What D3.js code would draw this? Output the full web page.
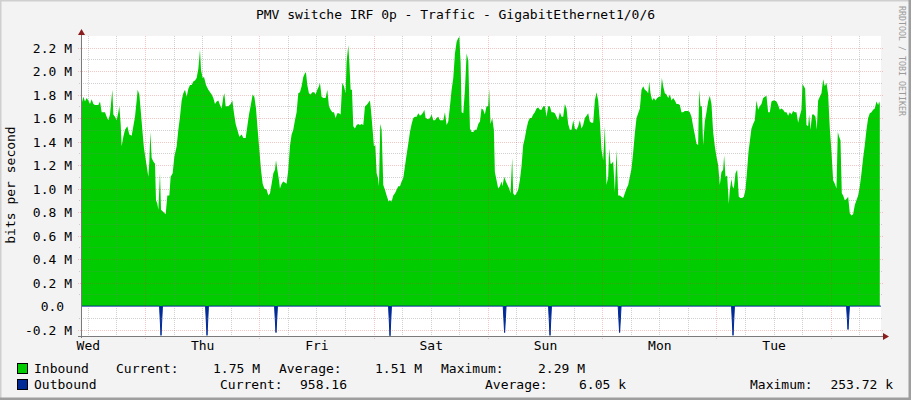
<!DOCTYPE html>
<html>
<head>
<meta charset="utf-8">
<script src="https://cdn.jsdelivr.net/npm/d3@7/dist/d3.min.js"></script>
<style>
  body { margin: 0; background: #f3f3f3; }
  svg text { font-family: "DejaVu Sans Mono", monospace; font-size: 13px; fill: #000; }
</style>
</head>
<body>
<svg id="graph"></svg>
<script>
var title = "PMV switche IRF 0p - Traffic - GigabitEthernet1/0/6";
var yTitle = "bits per second";
var watermark = "RRDTOOL / TOBI OETIKER";

// time is in hours counted from Wed 00:00, values in Mbit/s
var startHour = 10.56, endHour = 178.56;
var dayLabels = ["Wed", "Thu", "Fri", "Sat", "Sun", "Mon", "Tue"];
var dayLabelHours = [12, 36, 60, 84, 108, 132, 156];
var midnightHours = [24, 48, 72, 96, 120, 144, 168];

var yTicks = [-0.2, 0, 0.2, 0.4, 0.6, 0.8, 1.0, 1.2, 1.4, 1.6, 1.8, 2.0, 2.2];
var yTickLabels = ["-0.2 M", "0.0\u00a0", "0.2 M", "0.4 M", "0.6 M", "0.8 M", "1.0 M",
                   "1.2 M", "1.4 M", "1.6 M", "1.8 M", "2.0 M", "2.2 M"];

var seriesNames = ["Inbound", "Outbound"];
var currentValues = ["1.75 M", "958.16"];
var averageValues = ["1.51 M", "6.05 k"];
var maximumValues = ["2.29 M", "253.72 k"];

var inbound = [
  [10.56,1.70],[11.05,1.78],[11.40,1.74],[11.75,1.77],[12.10,1.75],[12.45,1.72],[12.80,1.76],[13.15,1.72],
  [13.50,1.71],[14.20,1.71],[14.55,1.74],[14.90,1.65],[15.60,1.65],[15.95,1.61],[16.30,1.58],[16.65,1.63],
  [17.14,1.84],[17.35,1.63],[17.70,1.61],[18.05,1.58],[18.40,1.65],[18.61,1.70],[18.89,1.55],[19.10,1.36],
  [19.45,1.44],[19.80,1.50],[20.29,1.53],[20.71,1.46],[21.20,1.45],[21.55,1.53],[21.90,1.61],[22.25,1.75],
  [22.46,1.84],[22.81,1.80],[23.09,1.67],[23.44,1.50],[23.79,1.34],[24.21,1.23],[24.70,1.10],[24.91,1.23],
  [25.12,1.48],[25.40,1.26],[25.75,1.23],[26.10,1.21],[26.31,0.90],[26.59,0.87],[26.80,0.82],[27.15,1.13],
  [27.36,0.82],[27.85,0.80],[28.34,0.78],[28.69,0.94],[29.11,0.94],[29.39,1.10],[29.81,1.13],[30.16,1.27],
  [30.65,1.36],[31.00,1.50],[31.35,1.61],[31.70,1.75],[32.05,1.81],[32.40,1.84],[32.75,1.78],[33.10,1.85],
  [33.45,1.88],[33.80,1.88],[34.15,1.91],[34.50,1.92],[34.85,1.94],[35.20,2.02],[35.55,2.18],[35.76,2.01],
  [36.11,1.94],[36.39,1.95],[36.81,1.88],[37.30,1.84],[38.00,1.80],[38.35,1.77],[38.70,1.72],[39.05,1.74],
  [39.40,1.75],[39.75,1.71],[40.10,1.68],[40.45,1.78],[40.66,1.81],[40.94,1.70],[41.50,1.70],[41.99,1.72],
  [42.34,1.75],[42.69,1.64],[43.04,1.55],[43.39,1.50],[43.81,1.44],[44.30,1.46],[44.65,1.43],[45.14,1.43],
  [45.49,1.53],[45.84,1.63],[46.26,1.72],[46.61,1.80],[46.96,1.78],[47.31,1.68],[47.66,1.50],[48.01,1.33],
  [48.36,1.16],[48.71,1.04],[49.06,1.00],[49.55,0.99],[49.90,0.94],[50.25,0.96],[50.60,1.04],[50.95,1.13],
  [51.30,1.16],[51.51,1.24],[51.79,1.16],[52.14,1.07],[52.34,1.00],[52.69,1.04],[53.04,1.06],[53.74,1.04],
  [54.09,1.16],[54.44,1.36],[54.79,1.46],[55.14,1.50],[55.49,1.58],[55.84,1.65],[56.19,1.81],[56.54,1.82],
  [56.89,1.87],[57.24,1.95],[57.59,1.98],[57.80,1.99],[58.08,1.88],[58.43,1.81],[58.78,1.80],[59.13,1.82],
  [59.55,1.82],[59.83,1.80],[60.18,1.84],[60.53,1.87],[60.74,1.90],[61.09,1.78],[61.44,1.77],[61.93,1.77],
  [62.28,1.84],[62.63,1.70],[62.98,1.67],[63.33,1.65],[63.68,1.65],[64.03,1.60],[64.38,1.64],[64.73,1.64],
  [65.08,1.63],[65.43,1.90],[65.78,1.87],[66.13,1.81],[66.34,2.08],[66.69,2.22],[66.90,2.08],[67.18,1.84],
  [67.46,1.84],[67.74,1.53],[68.09,1.51],[68.44,1.54],[68.79,1.55],[69.14,1.54],[69.49,1.55],[69.84,1.54],
  [70.19,1.70],[70.54,1.71],[70.89,1.73],[71.24,1.75],[71.45,1.67],[71.80,1.50],[72.08,1.36],[72.36,1.37],
  [72.64,1.13],[72.92,1.09],[73.13,1.02],[73.41,1.55],[73.69,1.50],[74.04,1.03],[74.39,0.99],[74.74,0.94],
  [75.16,0.89],[75.44,0.90],[75.79,0.89],[76.14,0.94],[76.49,0.96],[76.84,0.99],[77.19,1.02],[77.54,1.02],
  [77.89,1.06],[78.24,1.09],[78.59,1.19],[78.94,1.29],[79.29,1.38],[79.64,1.48],[79.99,1.55],[80.34,1.60],
  [80.69,1.61],[81.04,1.61],[81.39,1.64],[81.74,1.62],[82.09,1.63],[82.44,1.65],[82.65,1.67],[82.93,1.60],
  [83.49,1.59],[83.84,1.60],[84.19,1.63],[84.54,1.58],[84.89,1.58],[85.24,1.60],[85.59,1.61],[85.94,1.58],
  [86.29,1.58],[86.64,1.58],[86.99,1.65],[87.34,1.54],[87.69,1.57],[88.04,1.70],[88.39,1.84],[88.74,1.94],
  [89.09,2.15],[89.44,2.25],[89.79,2.28],[90.00,2.29],[90.28,2.07],[90.49,1.65],[90.84,1.64],[91.19,1.84],
  [91.54,2.15],[91.89,2.09],[92.24,1.51],[92.59,1.48],[92.94,1.48],[93.29,1.50],[93.64,1.50],[93.99,1.55],
  [94.34,1.57],[94.67,1.68],[95.02,1.67],[95.37,1.63],[95.72,1.70],[96.07,1.70],[96.28,1.85],[96.56,1.55],
  [96.91,1.60],[97.26,1.50],[97.47,1.14],[97.82,1.07],[98.17,1.00],[98.52,1.02],[98.87,1.06],[99.08,1.02],
  [99.43,1.10],[99.78,1.06],[100.13,1.03],[100.48,1.00],[100.76,0.96],[101.11,1.26],[101.32,0.96],[101.67,0.94],
  [102.02,0.96],[102.37,0.99],[102.72,1.07],[103.07,1.19],[103.42,1.37],[103.77,1.43],[104.12,1.51],[104.47,1.57],
  [104.82,1.60],[105.17,1.60],[105.52,1.63],[105.87,1.65],[106.22,1.68],[106.57,1.69],[106.92,1.67],[107.27,1.67],
  [107.62,1.70],[107.97,1.70],[108.32,1.61],[108.67,1.70],[109.02,1.70],[109.37,1.65],[109.72,1.65],[110.07,1.64],
  [110.42,1.61],[110.77,1.58],[111.12,1.65],[111.47,1.61],[111.82,1.61],[112.17,1.72],[112.52,1.68],[112.87,1.55],
  [113.22,1.50],[113.57,1.50],[113.92,1.58],[114.27,1.51],[114.62,1.50],[114.97,1.53],[115.32,1.58],[115.67,1.51],
  [116.02,1.54],[116.37,1.60],[116.72,1.62],[117.07,1.64],[117.42,1.57],[117.77,1.56],[118.12,1.56],[118.47,1.75],
  [118.82,1.82],[119.17,1.75],[119.52,1.57],[119.87,1.33],[120.22,1.24],[120.57,1.53],[120.92,1.03],[121.27,1.10],
  [121.48,1.34],[121.76,1.21],[121.97,1.21],[122.32,1.23],[122.67,0.97],[123.02,1.33],[123.37,0.94],[123.72,0.94],
  [124.07,0.93],[124.42,0.92],[124.77,0.96],[125.12,1.00],[125.47,1.03],[125.82,1.10],[126.17,1.17],[126.52,1.31],
  [126.87,1.47],[127.22,1.60],[127.57,1.64],[127.92,1.68],[128.27,1.84],[128.62,1.87],[128.97,1.84],[129.32,1.83],
  [129.67,1.81],[129.88,1.91],[130.16,1.81],[130.51,1.75],[130.86,1.77],[131.21,1.75],[131.56,1.77],[131.91,1.78],
  [132.26,1.78],[132.54,1.94],[132.82,1.87],[133.17,1.81],[133.52,1.80],[133.87,1.77],[134.22,1.80],[134.57,1.75],
  [134.92,1.77],[135.27,1.75],[135.62,1.72],[135.97,1.72],[136.32,1.71],[136.66,1.65],[137.01,1.65],[137.36,1.66],
  [137.71,1.66],[138.06,1.66],[138.41,1.65],[138.76,1.61],[139.11,1.53],[139.46,1.46],[139.81,1.38],[140.16,1.37],
  [140.37,1.84],[140.65,1.70],[140.93,1.70],[141.21,1.37],[141.56,1.57],[141.91,1.65],[142.26,1.74],[142.61,1.79],
  [142.96,1.72],[143.31,1.48],[143.66,1.36],[144.01,1.27],[144.36,1.20],[144.71,1.03],[145.06,1.14],[145.41,1.16],
  [145.62,1.28],[145.90,1.10],[146.25,1.11],[146.60,0.87],[146.81,0.99],[147.16,1.08],[147.37,1.02],[147.65,1.00],
  [148.00,1.13],[148.35,1.16],[148.70,0.93],[149.05,0.92],[149.40,0.92],[149.75,0.93],[150.10,0.99],[150.45,1.16],
  [150.73,1.31],[151.01,1.40],[151.36,1.51],[151.71,1.55],[152.06,1.58],[152.41,1.75],[152.76,1.67],[153.11,1.70],
  [153.46,1.72],[153.81,1.77],[154.16,1.78],[154.51,1.79],[154.86,1.65],[155.21,1.65],[155.56,1.74],[155.91,1.75],
  [156.26,1.75],[156.61,1.74],[156.96,1.71],[157.31,1.67],[157.66,1.68],[158.01,1.67],[158.36,1.65],[158.71,1.65],
  [159.06,1.62],[159.41,1.65],[159.76,1.63],[160.11,1.66],[160.46,1.65],[160.81,1.65],[161.16,1.56],[161.51,1.62],
  [161.86,1.67],[162.07,1.89],[162.35,1.87],[162.63,1.85],[162.91,1.54],[163.26,1.53],[163.47,1.63],[163.75,1.50],
  [164.10,1.63],[164.45,1.63],[164.80,1.61],[165.08,1.50],[165.36,1.75],[165.71,1.78],[166.06,1.81],[166.41,1.93],
  [166.76,1.87],[167.11,1.90],[167.46,1.80],[167.81,1.51],[168.16,1.31],[168.51,1.07],[168.86,1.04],[169.21,1.00],
  [169.49,1.48],[169.77,1.44],[170.05,1.41],[170.33,0.96],[170.61,0.94],[170.96,0.90],[171.31,0.91],[171.66,0.93],
  [172.01,0.79],[172.36,0.77],[172.71,0.78],[173.06,0.86],[173.41,0.90],[173.76,0.94],[174.11,1.02],[174.46,1.13],
  [174.81,1.26],[175.16,1.37],[175.51,1.50],[175.86,1.60],[176.21,1.64],[176.56,1.65],[176.91,1.67],[177.26,1.68],
  [177.61,1.74],[177.96,1.71],[178.17,1.74],[178.31,1.72]
];

// outbound is drawn below zero; mostly ~958 bit/s with a few short bursts
var outbound = [
  [10.56,0.001],
  [27.06,0.001],[27.36,0.250],[27.66,0.001],
  [36.72,0.001],[37.02,0.250],[37.32,0.001],
  [51.21,0.001],[51.51,0.226],[51.81,0.001],
  [75.15,0.001],[75.45,0.2537],[75.75,0.001],
  [99.22,0.001],[99.52,0.226],[99.82,0.001],
  [108.75,0.001],[109.05,0.250],[109.35,0.001],
  [123.37,0.001],[123.67,0.226],[123.97,0.001],
  [147.18,0.001],[147.48,0.250],[147.78,0.001],
  [171.33,0.001],[171.63,0.200],[171.93,0.001],
  [178.56,0.001]
];

var width = 911, height = 400;
var plotLeft = 81, plotRight = 881, plotTop = 36, plotBottom = 336;

var x = d3.scaleLinear().domain([startHour, endHour]).range([plotLeft, plotRight]);
var y = d3.scaleLinear().domain([-0.2553, 2.2979]).range([plotBottom, plotTop]);

var svg = d3.select("#graph").attr("width", width).attr("height", height);

// frame
svg.append("rect").attr("width", width).attr("height", height).attr("fill", "#f3f3f3");
svg.append("path").attr("d", "M0,400V0H911").attr("fill", "none")
   .attr("stroke", "#cfcfcf").attr("stroke-width", 3);
svg.append("path").attr("d", "M0,399H910V0").attr("fill", "none")
   .attr("stroke", "#9e9e9e").attr("stroke-width", 3);

svg.append("rect")
   .attr("x", plotLeft).attr("y", plotTop)
   .attr("width", plotRight - plotLeft).attr("height", plotBottom - plotTop)
   .attr("fill", "#fff");

var inArea = d3.area()
  .x(function(d) { return x(d[0]); })
  .y0(y(0))
  .y1(function(d) { return y(d[1]); });

var outArea = d3.area()
  .x(function(d) { return x(d[0]); })
  .y0(y(0))
  .y1(function(d) { return y(-d[1]); });

var outLine = d3.line()
  .x(function(d) { return x(d[0]); })
  .y(function(d) { return y(-d[1]); });

svg.append("path").datum(inbound).attr("d", inArea).attr("fill", "#00cc00");
svg.append("path").datum(outbound).attr("d", outArea).attr("fill", "#002a97");
svg.append("path").datum(outbound).attr("d", outLine)
   .attr("fill", "none").attr("stroke", "#002a97").attr("stroke-width", 1);

// grid on top of the data, like rrdtool does
var grid = svg.append("g").attr("shape-rendering", "crispEdges").attr("stroke-dasharray", "1,1");
var minorColor = "rgba(120,120,120,0.35)", majorColor = "rgba(215,50,50,0.28)";

var yMinor = d3.range(-0.1, 2.25, 0.2);
var hourMinor = d3.range(12, endHour, 6).filter(function(h) { return h % 24 != 0; });

grid.selectAll("line.ymin").data(yMinor).enter().append("line")
    .attr("x1", plotLeft - 2).attr("x2", plotRight + 2)
    .attr("y1", function(d) { return Math.round(y(d)) + 0.5; })
    .attr("y2", function(d) { return Math.round(y(d)) + 0.5; })
    .attr("stroke", minorColor);
grid.selectAll("line.xmin").data(hourMinor).enter().append("line")
    .attr("x1", function(d) { return Math.round(x(d)) + 0.5; })
    .attr("x2", function(d) { return Math.round(x(d)) + 0.5; })
    .attr("y1", plotTop).attr("y2", plotBottom + 2)
    .attr("stroke", minorColor);
grid.selectAll("line.ymaj").data(yTicks).enter().append("line")
    .attr("x1", plotLeft - 3).attr("x2", plotRight + 2)
    .attr("y1", function(d) { return Math.round(y(d)) + 0.5; })
    .attr("y2", function(d) { return Math.round(y(d)) + 0.5; })
    .attr("stroke", function(d) { return d == 0 ? "none" : majorColor; });
grid.selectAll("line.xmaj").data(midnightHours).enter().append("line")
    .attr("x1", function(d) { return Math.round(x(d)) + 0.5; })
    .attr("x2", function(d) { return Math.round(x(d)) + 0.5; })
    .attr("y1", plotTop).attr("y2", plotBottom + 3)
    .attr("stroke", majorColor);

// axes
var axisColor = "#7a7a7a", arrowColor = "#8b1c1c";
svg.append("line").attr("x1", plotLeft + 0.5).attr("x2", plotLeft + 0.5)
   .attr("y1", plotBottom + 2).attr("y2", plotTop - 3)
   .attr("stroke", axisColor).attr("shape-rendering", "crispEdges");
svg.append("line").attr("x1", plotLeft - 3).attr("x2", plotRight + 4)
   .attr("y1", plotBottom + 0.5).attr("y2", plotBottom + 0.5)
   .attr("stroke", axisColor).attr("shape-rendering", "crispEdges");
svg.append("path")
   .attr("d", "M" + (plotLeft - 3) + "," + (plotTop - 1) + "L" + (plotLeft + 0.5) + "," + (plotTop - 7) +
              "L" + (plotLeft + 4) + "," + (plotTop - 1) + "Z")
   .attr("fill", arrowColor);
svg.append("path")
   .attr("d", "M" + (plotRight + 2) + "," + (plotBottom - 3) + "L" + (plotRight + 8) + "," + (plotBottom + 0.5) +
              "L" + (plotRight + 2) + "," + (plotBottom + 4) + "Z")
   .attr("fill", arrowColor);

var yAxis = d3.axisLeft(y)
  .tickValues(yTicks)
  .tickFormat(function(d, i) { return yTickLabels[i]; })
  .tickSize(0)
  .tickPadding(9);

svg.append("g")
   .attr("transform", "translate(" + plotLeft + ",0)")
   .call(yAxis)
   .call(function(g) { g.select(".domain").remove(); })
   .selectAll("text")
     .attr("font-family", "DejaVu Sans Mono").attr("font-size", 13)
     .attr("fill", "#000").attr("dy", "0.36em");

var xAxis = d3.axisBottom(x)
  .tickValues(dayLabelHours)
  .tickFormat(function(d, i) { return dayLabels[i]; })
  .tickSize(0)
  .tickPadding(5);

svg.append("g")
   .attr("transform", "translate(0," + plotBottom + ")")
   .call(xAxis)
   .call(function(g) { g.select(".domain").remove(); })
   .selectAll("text")
     .attr("font-family", "DejaVu Sans Mono").attr("font-size", 13).attr("fill", "#000");

// titles
svg.append("text").attr("x", width / 2).attr("y", 19)
   .attr("text-anchor", "middle").text(title);

svg.append("text")
   .attr("transform", "translate(15,185) rotate(-90)")
   .attr("text-anchor", "middle").text(yTitle);

svg.append("text")
   .attr("transform", "translate(899,6) rotate(90)")
   .attr("font-size", 9).attr("textLength", 110).attr("lengthAdjust", "spacingAndGlyphs")
   .style("font-size", "9px").style("fill", "#9a9a9a")
   .text(watermark);

// legend
var legendColors = ["#00cc00", "#002a97"];
var rowY = [373, 389];
var labelX = [[116, 279, 441], [220, 485, 750]];
var valueEndX = [[260, 422, 585], [347, 626, 893]];

seriesNames.forEach(function(name, i) {
  svg.append("rect")
     .attr("x", 17.5).attr("y", rowY[i] - 9.5)
     .attr("width", 10).attr("height", 10)
     .attr("fill", legendColors[i]).attr("stroke", "#000");
  svg.append("text").attr("x", 34).attr("y", rowY[i]).text(name);

  var labels = ["Current:", "Average:", "Maximum:"];
  var vals = [currentValues[i], averageValues[i], maximumValues[i]];
  labels.forEach(function(l, j) {
    svg.append("text").attr("x", labelX[i][j]).attr("y", rowY[i]).text(l);
    svg.append("text").attr("x", valueEndX[i][j]).attr("y", rowY[i])
       .attr("text-anchor", "end").text(vals[j]);
  });
});
</script>
</body>
</html>
